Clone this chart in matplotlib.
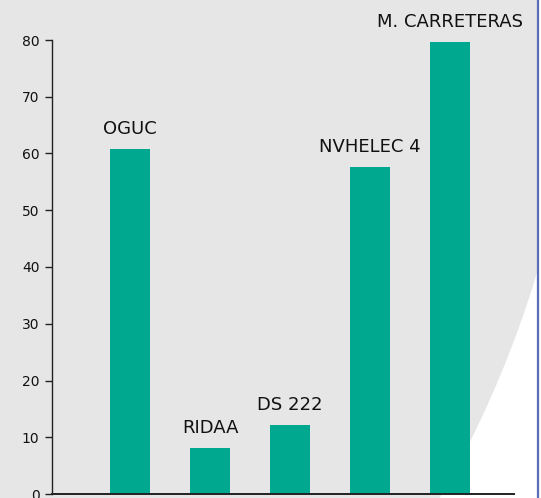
import matplotlib
matplotlib.use("Agg")
import matplotlib.pyplot as plt
from matplotlib.patches import Circle, Rectangle

categories = ["OGUC", "RIDAA", "DS 222", "NVHELEC 4", "M. CARRETERAS"]
values = [60.8, 8.1, 12.2, 57.6, 79.6]
yticks = [0, 10, 20, 30, 40, 50, 60, 70, 80]

W, H = 541, 498
fig = plt.figure(figsize=(W / 100, H / 100), dpi=100)
fig.patch.set_facecolor("white")

# background decoration axes in pixel coords
bg = fig.add_axes([0, 0, 1, 1], zorder=0)
bg.set_xlim(0, W)
bg.set_ylim(H, 0)
bg.axis("off")
circ = Circle((-472.8, -29.5), 1054, facecolor="#e6e6e6", edgecolor="none")
bg.add_patch(circ)
clip = Rectangle((0, 0), 537, H, transform=bg.transData)
circ.set_clip_path(clip)
bg.plot([538, 538], [0, H], color="#5b6bb8", lw=1.6, solid_capstyle="butt")

plt.rcParams["font.family"] = ["DejaVu Sans"]

ax = fig.add_axes([52 / W, (H - 494) / H, (514 - 52) / W, (494 - 40) / H], zorder=1)
ax.patch.set_alpha(0)
x = list(range(len(categories)))
bars = ax.bar(x, values, width=0.5, color="#00a88f", zorder=2)
ax.set_xlim(-0.975, 4.8)
ax.set_ylim(0, 80)
ax.set_yticks(yticks)
ax.set_xticks([])
for s in ["top", "right"]:
    ax.spines[s].set_visible(False)
ax.spines["left"].set_color("#222222")
ax.spines["left"].set_linewidth(1.0)
ax.spines["bottom"].set_color("#222222")
ax.spines["bottom"].set_linewidth(1.4)
ax.tick_params(axis="y", length=5, width=1.0, color="#222222", pad=4, labelsize=10, labelcolor="#111111")
for xi, v, lab in zip(x, values, categories):
    ax.annotate(lab, (xi, v), xytext=(0, 8), textcoords="offset points",
                ha="center", va="bottom", fontsize=13, color="#111111")

fig.savefig("out.png", dpi=100)
